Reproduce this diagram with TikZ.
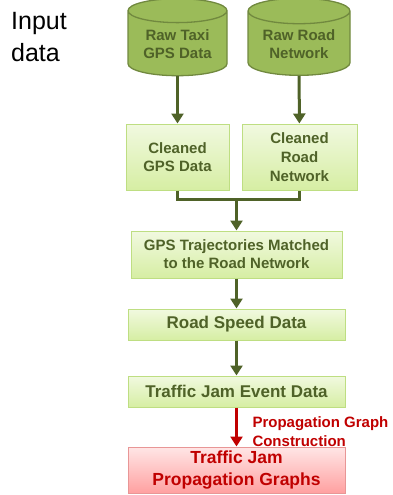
\documentclass[tikz,border=0pt]{standalone}
\usepackage{fontspec}
\setmainfont{Liberation Sans}
\usetikzlibrary{shapes.geometric,arrows.meta}
\definecolor{olive}{RGB}{79,98,40}
\definecolor{cylfill}{RGB}{155,187,89}
\definecolor{cylline}{RGB}{113,137,63}
\definecolor{boxtop}{RGB}{241,249,224}
\definecolor{boxbot}{RGB}{214,238,163}
\definecolor{boxline}{RGB}{190,222,130}
\definecolor{redtxt}{RGB}{192,0,0}
\definecolor{redtop}{RGB}{255,230,230}
\definecolor{redbot}{RGB}{255,160,160}
\definecolor{redline}{RGB}{232,150,150}
\begin{document}
\begin{tikzpicture}[x=1pt,y=-1pt]
        \tikzstyle{db}=[cylinder,shape border rotate=90,aspect=0.35,draw=cylline,line width=1.3pt,fill=cylfill,text=olive,font=\bfseries\fontsize{15}{18}\selectfont,align=center,inner sep=0pt]
        \tikzstyle{stage}=[rectangle,draw=boxline,line width=1pt,top color=boxtop,bottom color=boxbot,text=olive,font=\bfseries\fontsize{15}{18}\selectfont,align=center,inner sep=0pt]
        \tikzstyle{result}=[rectangle,draw=redline,line width=1pt,top color=redtop,bottom color=redbot,text=redtxt,font=\bfseries\fontsize{17.5}{22}\selectfont,align=center,inner sep=0pt]
        \tikzstyle{edge}=[draw=olive,line width=3pt,-{Triangle[width=12pt,length=10pt]}]
        \tikzstyle{redge}=[draw=redtxt,line width=3pt,-{Triangle[width=12pt,length=10pt]}]
        \useasboundingbox (0,0) rectangle (392,495);

         \node [anchor=north west,inner sep=0pt,align=left,font=\fontsize{25}{32}\selectfont] (input) at (11,12) {Input\\data};

         \node [db,minimum width=99pt,minimum height=77pt] (rawgps) at (177.5,43.5) {\\[-6pt]Raw Taxi\\GPS Data};
         \node [db,minimum width=102pt,minimum height=77pt] (rawroad) at (299,43.5) {\\[-6pt]Raw Road\\Network};

         \node [stage,minimum width=103pt,minimum height=66pt] (cleangps) at (177.5,157) {Cleaned\\GPS Data};
         \node [stage,minimum width=115pt,minimum height=66pt,font=\bfseries\fontsize{15}{19}\selectfont] (cleanroad) at (299.5,157) {Cleaned\\Road\\Network};
         \node [stage,minimum width=211pt,minimum height=47pt] (matched) at (236.5,254.5) {GPS Trajectories Matched\\to the Road Network};
         \node [stage,minimum width=217pt,minimum height=31pt,font=\bfseries\fontsize{17}{20}\selectfont] (speed) at (236.5,324.5) {Road Speed Data};
         \node [stage,minimum width=217pt,minimum height=31pt,font=\bfseries\fontsize{17}{20}\selectfont] (jam) at (236.5,391.5) {Traffic Jam Event Data};
         \node [result,minimum width=217pt,minimum height=46pt] (graphs) at (236.5,470) {Traffic Jam\\Propagation Graphs};

         \coordinate (join) at (236.5,199);

         \path[edge] (rawgps) to (cleangps);
         \path[edge] (rawroad) to (cleanroad);
         \draw[olive,line width=3pt] (cleangps.south) |- (join) -| (cleanroad.south);
         \path[edge] (join) to (matched);
         \path[edge] (matched) to (speed);
         \path[edge] (speed) to (jam);
         \path[redge] (jam) to node[anchor=north west,inner sep=0pt,align=left,text=redtxt,font=\bfseries\fontsize{15}{19}\selectfont,xshift=14.5pt,yshift=12pt] (label) {Propagation Graph\\Construction} (graphs);

      \end{tikzpicture}
\end{document}
